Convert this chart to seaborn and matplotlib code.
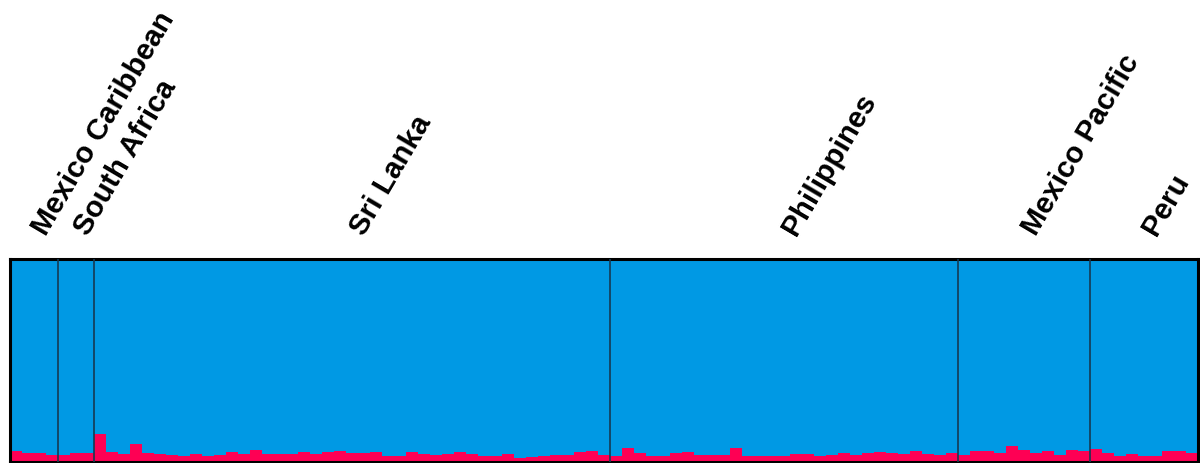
import numpy as np
import pandas as pd
import matplotlib
matplotlib.use("Agg")
import matplotlib.pyplot as plt
import seaborn as sns

# Populations in plot order and the membership of each individual in the minor (red) cluster
populations = ["Mexico Caribbean", "South Africa", "Sri Lanka", "Philippines", "Mexico Pacific", "Peru"]

q_mexico_caribbean = [0.052, 0.043, 0.043, 0.035]
q_south_africa = [0.034, 0.043, 0.043]
q_sri_lanka = [0.136, 0.047, 0.039, 0.085, 0.043, 0.039, 0.035, 0.027, 0.039, 0.027,
               0.035, 0.047, 0.039, 0.058, 0.039, 0.039, 0.039, 0.050, 0.039, 0.047,
               0.052, 0.043, 0.043, 0.047, 0.030, 0.030, 0.047, 0.039, 0.035, 0.039,
               0.047, 0.039, 0.030, 0.030, 0.039, 0.017, 0.022, 0.030, 0.035, 0.035,
               0.047, 0.052, 0.035]
q_philippines = [0.030, 0.067, 0.043, 0.027, 0.027, 0.043, 0.050, 0.035, 0.035, 0.035,
                 0.067, 0.030, 0.027, 0.027, 0.030, 0.039, 0.039, 0.030, 0.035, 0.043,
                 0.035, 0.042, 0.047, 0.043, 0.039, 0.055, 0.039, 0.035, 0.043]
q_mexico_pacific = [0.035, 0.052, 0.052, 0.043, 0.077, 0.060, 0.043, 0.055, 0.034, 0.060, 0.055]
q_peru = [0.062, 0.043, 0.030, 0.039, 0.030, 0.030, 0.052, 0.052, 0.043]

groups = [q_mexico_caribbean, q_south_africa, q_sri_lanka, q_philippines, q_mexico_pacific, q_peru]

rows = []
for pop, q in zip(populations, groups):
    for v in q:
        rows.append({"population": pop, "red": v, "blue": 1.0 - v})
df = pd.DataFrame(rows)
df["ind"] = np.arange(len(df))
df["total"] = df["red"] + df["blue"]

BLUE = "#0099e4"
RED = "#fe0054"

sns.set_theme(style="white")
plt.rcParams["font.family"] = ["Liberation Sans", "DejaVu Sans"]

fig = plt.figure(figsize=(12, 4.64), dpi=100)
ax = fig.add_axes([10 / 1200, 1.3 / 464, 1188 / 1200, 202.7 / 464])

# Stacked membership bars: blue cluster fills the column, red cluster sits at the bottom
sns.barplot(data=df, x="ind", y="total", color=BLUE, width=1.0, linewidth=0,
            edgecolor="none", saturation=1, ax=ax, antialiased=False)
sns.barplot(data=df, x="ind", y="red", color=RED, width=1.0, linewidth=0,
            edgecolor="none", saturation=1, ax=ax, antialiased=False)

n = len(df)
ax.set_xlim(-0.5, n - 0.5)
ax.set_ylim(0, 1)
ax.set_xticks([])
ax.set_yticks([])
ax.set_xlabel("")
ax.set_ylabel("")
for sp in ax.spines.values():
    sp.set_visible(True)
    sp.set_color("black")
    sp.set_linewidth(2.2)

# Population boundaries and rotated labels
counts = [len(g) for g in groups]
edges = np.concatenate([[0], np.cumsum(counts)]) - 0.5
for b in edges[1:-1]:
    ax.axvline(b, color="#163a52", linewidth=1.2, zorder=5)

trans = ax.get_xaxis_transform()
for pop, lo, hi in zip(populations, edges[:-1], edges[1:]):
    mid = (lo + hi) / 2
    ax.text(mid + 0.45, 1.132, pop, transform=trans, rotation=59.5,
            rotation_mode="anchor", ha="left", va="center",
            fontsize=21.3, fontweight="bold", color="black", clip_on=False)

fig.savefig("out.png", dpi=100)
